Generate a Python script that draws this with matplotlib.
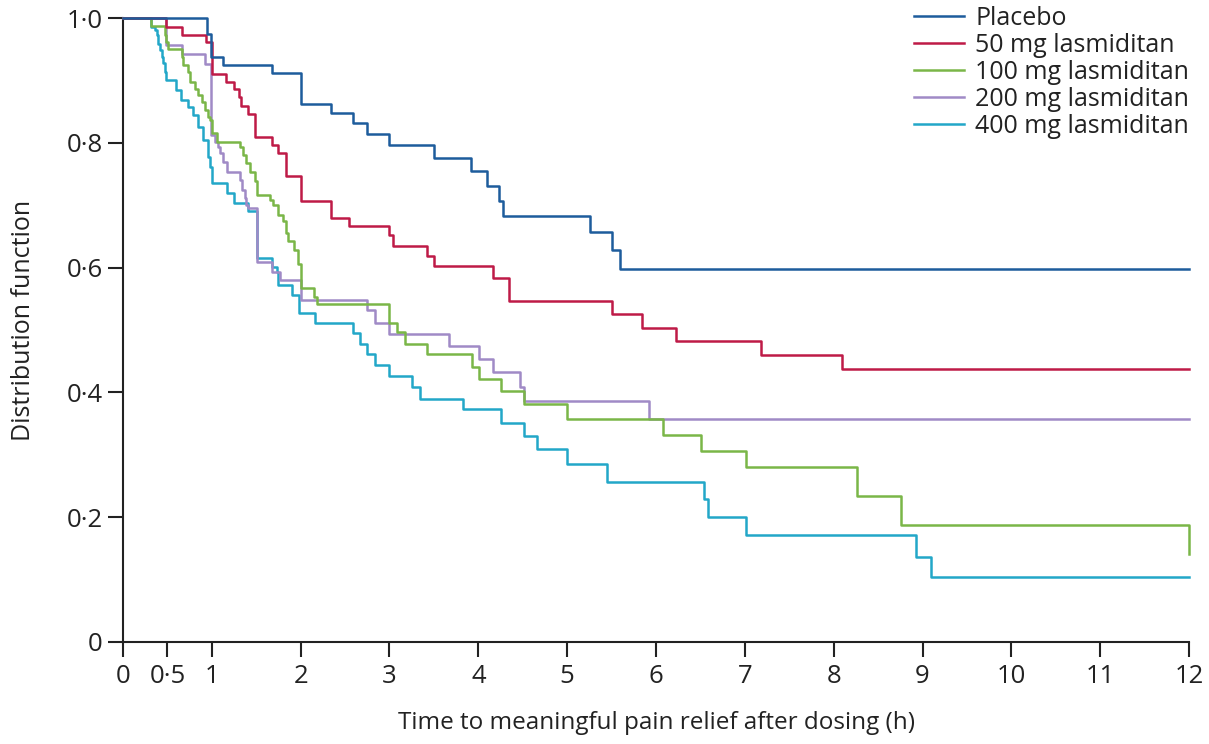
import matplotlib
matplotlib.use("Agg")
import matplotlib.pyplot as plt

plt.rcParams['font.family'] = ['Open Sans', 'DejaVu Sans']

# ---- data (step functions, value after each time point) ----
placebo_t = [0, 0.95, 0.99, 1.13, 1.68, 2.0, 2.34, 2.59, 2.75, 3.0, 3.5, 3.92, 4.10, 4.23, 4.28, 5.26, 5.50, 5.59, 12]
placebo_v = [1.0, 0.974, 0.9375, 0.925, 0.912, 0.862, 0.847, 0.831, 0.814, 0.796, 0.775, 0.755, 0.730, 0.706, 0.683, 0.657, 0.628, 0.597, 0.597]

mg50_t = [0, 0.49, 0.66, 0.94, 1.0, 1.16, 1.25, 1.31, 1.33, 1.41, 1.49, 1.68, 1.75, 1.83, 2.0, 2.34, 2.54, 3.0, 3.04, 3.42, 3.50, 4.17, 4.34, 5.50, 5.84, 6.23, 7.18, 8.09, 12]
mg50_v = [1.0, 0.986, 0.973, 0.962, 0.911, 0.898, 0.886, 0.873, 0.859, 0.846, 0.810, 0.796, 0.784, 0.746, 0.706, 0.680, 0.666, 0.652, 0.635, 0.618, 0.603, 0.583, 0.546, 0.525, 0.504, 0.482, 0.460, 0.4375, 0.4375]

mg100_t = [0, 0.32, 0.47, 0.49, 0.51, 0.66, 0.68, 0.735, 0.755, 0.81, 0.85, 0.885, 0.92, 0.96, 0.98, 1.0, 1.055, 1.32, 1.35, 1.39, 1.43, 1.49, 1.505, 1.655, 1.69, 1.75, 1.80, 1.835, 1.86, 1.92, 1.97, 2.0, 2.15, 2.18, 3.0, 3.08, 3.17, 3.42, 3.925, 4.01, 4.25, 4.51, 5.0, 6.08, 6.51, 7.01, 8.26, 8.76, 12]
mg100_v = [1.0, 0.987, 0.973, 0.962, 0.950, 0.938, 0.925, 0.914, 0.898, 0.887, 0.877, 0.866, 0.853, 0.842, 0.837, 0.815, 0.802, 0.794, 0.780, 0.767, 0.754, 0.738, 0.716, 0.708, 0.700, 0.684, 0.674, 0.655, 0.642, 0.628, 0.606, 0.567, 0.553, 0.542, 0.511, 0.496, 0.478, 0.4615, 0.441, 0.4215, 0.403, 0.381, 0.357, 0.332, 0.306, 0.281, 0.234, 0.1875, 0.141]

mg200_t = [0, 0.49, 0.66, 0.92, 0.99, 1.035, 1.07, 1.09, 1.13, 1.17, 1.32, 1.34, 1.37, 1.39, 1.41, 1.505, 1.674, 1.77, 2.0, 2.75, 2.84, 3.0, 3.675, 4.01, 4.17, 4.47, 4.51, 5.925, 12]
mg200_v = [1.0, 0.957, 0.943, 0.927, 0.812, 0.802, 0.794, 0.783, 0.770, 0.754, 0.740, 0.724, 0.711, 0.700, 0.695, 0.609, 0.593, 0.580, 0.548, 0.532, 0.511, 0.494, 0.474, 0.453, 0.432, 0.408, 0.387, 0.357, 0.357]

mg400_t = [0, 0.315, 0.36, 0.38, 0.40, 0.415, 0.435, 0.455, 0.47, 0.49, 0.60, 0.65, 0.735, 0.79, 0.85, 0.90, 0.953, 0.98, 1.0, 1.17, 1.25, 1.41, 1.505, 1.674, 1.73, 1.75, 1.90, 1.985, 2.16, 2.585, 2.67, 2.75, 2.84, 3.0, 3.25, 3.34, 3.83, 4.25, 4.51, 4.66, 5.0, 5.45, 6.54, 6.59, 7.01, 8.93, 9.09, 12]
mg400_v = [1.0, 0.986, 0.981, 0.973, 0.959, 0.949, 0.938, 0.928, 0.914, 0.901, 0.885, 0.869, 0.858, 0.845, 0.826, 0.804, 0.778, 0.762, 0.735, 0.719, 0.703, 0.690, 0.615, 0.601, 0.593, 0.572, 0.556, 0.527, 0.511, 0.495, 0.478, 0.462, 0.444, 0.426, 0.408, 0.390, 0.373, 0.351, 0.330, 0.309, 0.285, 0.257, 0.229, 0.201, 0.1715, 0.137, 0.104, 0.104]

series_labels = ["Placebo", "50 mg lasmiditan", "100 mg lasmiditan", "200 mg lasmiditan", "400 mg lasmiditan"]
series_colors = ["#1d5c9c", "#be1a47", "#7ab648", "#a08ac6", "#22a7c8"]

x_ticks = [0, 0.5, 1, 2, 3, 4, 5, 6, 7, 8, 9, 10, 11, 12]
x_ticklabels = ["0", "0·5", "1", "2", "3", "4", "5", "6", "7", "8", "9", "10", "11", "12"]
y_ticks = [0, 0.2, 0.4, 0.6, 0.8, 1.0]
y_ticklabels = ["0", "0·2", "0·4", "0·6", "0·8", "1·0"]

fig = plt.figure(figsize=(12.09, 7.44), dpi=100)
ax = fig.add_axes([0.1017, 0.1371, 0.8818, 0.8387])

series = [(placebo_t, placebo_v), (mg50_t, mg50_v), (mg100_t, mg100_v),
          (mg200_t, mg200_v), (mg400_t, mg400_v)]
order = [4, 3, 2, 1, 0]
handles = {}
for i in order:
    t, v = series[i]
    h, = ax.step(t, v, where='post', color=series_colors[i], lw=1.8,
                 label=series_labels[i], clip_on=False, zorder=3 + (4 - i))
    handles[i] = h

ax.set_xlim(0, 12)
ax.set_ylim(0, 1.0)
ax.set_xticks(x_ticks)
ax.set_xticklabels(x_ticklabels)
ax.set_yticks(y_ticks)
ax.set_yticklabels(y_ticklabels)
for s in ['top', 'right']:
    ax.spines[s].set_visible(False)
for s in ['left', 'bottom']:
    ax.spines[s].set_linewidth(1.5)
    ax.spines[s].set_color('#222222')
ax.tick_params(axis='both', length=10.5, width=1.5, color='#222222',
               labelsize=18.5, labelcolor='#222222')
ax.tick_params(axis='y', pad=4)
ax.tick_params(axis='x', pad=5)

ax.set_xlabel("Time to meaningful pain relief after dosing (h)", fontsize=17.5,
              color='#222222', labelpad=16.5)
ax.set_ylabel("Distribution function", fontsize=18, color='#222222')
ax.yaxis.set_label_coords(-0.082, 0.515)

leg = ax.legend([handles[i] for i in range(5)], series_labels,
                loc='upper right', bbox_to_anchor=(1.0, 1.019), frameon=False,
                fontsize=18, handlelength=2.0, handletextpad=0.45,
                labelspacing=0.08, borderaxespad=0, borderpad=0)
for txt in leg.get_texts():
    txt.set_color('#222222')

fig.savefig("out.png", dpi=100)
